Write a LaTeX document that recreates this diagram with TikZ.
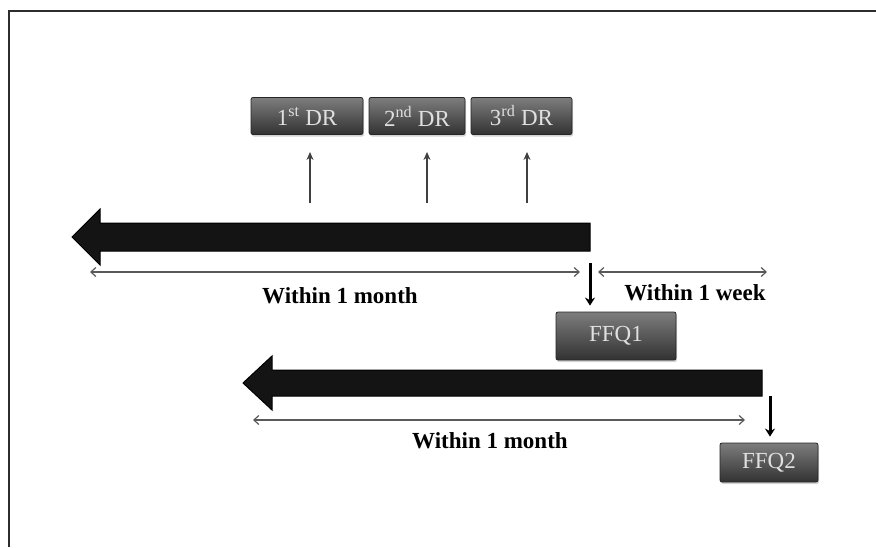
\documentclass[tikz,border=0pt]{standalone}
\usepackage{fontspec}
\setmainfont{Liberation Serif}
\usepackage{tikz}
\usetikzlibrary{arrows.meta, positioning, shadows, calc}
\definecolor{framegray}{RGB}{45,45,45}
\definecolor{boxtop}{RGB}{125,125,125}
\definecolor{boxbottom}{RGB}{50,50,50}

\tikzset{
  stagebox/.style={rectangle,rounded corners=2pt,draw=black!85,line width=0.8pt,
    top color=boxtop,bottom color=boxbottom,text=white!88!black,
    font=\fontsize{23}{26}\selectfont,inner sep=0pt,
    drop shadow={shadow xshift=1pt,shadow yshift=-2pt,opacity=0.35}},
  bigarrow/.style={draw=black,fill=black!92,line width=1pt},
  spanarrow/.style={gray!70!black,line width=1.2pt,
    {Straight Barb[length=5pt,width=9pt]}-{Straight Barb[length=5pt,width=9pt]}},
  uparrow/.style={gray!50!black,line width=1.2pt,-{Stealth[length=8pt,width=7pt]}},
  downarrow/.style={black,line width=3pt,-{Stealth[length=8pt,width=10pt]},shorten >=6pt},
  spanlabel/.style={font=\bfseries\fontsize{23}{26}\selectfont}
}

\begin{document}
\begin{tikzpicture}[x=1pt,y=-1pt]
    \useasboundingbox (0,0) rectangle (876,547);
    % Cornice
    \draw[framegray,line width=2.5pt] (9,547) -- (9,11) -- (876,11);

    % Diari alimentari
    \node[stagebox,minimum width=112pt,minimum height=37pt] (dr1) at (307,116) {1\textsuperscript{st} DR};
    \node[stagebox,minimum width=96pt,minimum height=37pt] (dr2) at (417,116) {2\textsuperscript{nd} DR};
    \node[stagebox,minimum width=101pt,minimum height=37pt] (dr3) at (521.5,116) {3\textsuperscript{rd} DR};
    \foreach \x/\n in {310/1,427/2,527/3} {
        \coordinate (ua\n) at (\x,203);
        \coordinate (ub\n) at (\x,152);
        \draw[uparrow] (ua\n) -- (ub\n);
    }

    % Prima freccia
    \draw[bigarrow] (590,223) -- (100,223) -- (100,209) -- (72,237) -- (100,265) -- (100,251) -- (590,251) -- cycle;
    \coordinate (m1a) at (90,272);
    \coordinate (m1b) at (580,272);
    \draw[spanarrow] (m1a) -- (m1b);
    \node[spanlabel] (m1) at (340,296) {Within 1 month};
    \coordinate (w1a) at (598,272);
    \coordinate (w1b) at (767,272);
    \draw[spanarrow] (w1a) -- (w1b);
    \node[spanlabel] (w1) at (695,293) {Within 1 week};

    % FFQ1
    \node[stagebox,minimum width=120pt,minimum height=48pt] (ffq1) at (616,336) {FFQ1};
    \coordinate (v1) at (590,263);
    \draw[downarrow] (v1) -- (v1 |- ffq1.north);

    % Seconda freccia
    \draw[bigarrow] (762,370) -- (272,370) -- (272,356) -- (243,383) -- (272,410) -- (272,396) -- (762,396) -- cycle;
    \coordinate (m2a) at (253,420);
    \coordinate (m2b) at (745,420);
    \draw[spanarrow] (m2a) -- (m2b);
    \node[spanlabel] (m2) at (490,441) {Within 1 month};

    % FFQ2
    \node[stagebox,minimum width=98pt,minimum height=39pt] (ffq2) at (769,462.5) {FFQ2};
    \coordinate (v2) at (770,396);
    \draw[downarrow] (v2) -- (v2 |- ffq2.north);
\end{tikzpicture}
\end{document}
